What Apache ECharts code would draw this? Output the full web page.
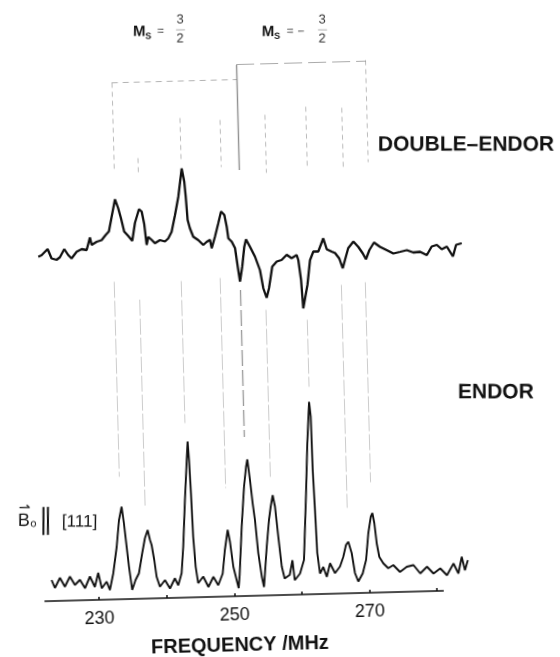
<!DOCTYPE html>
<html>
<head>
<meta charset="utf-8">
<script src="https://cdn.jsdelivr.net/npm/echarts@6/dist/echarts.min.js"></script>
<style>
  html, body { margin: 0; padding: 0; background: #fff; overflow: hidden; }
  /* the recorder trace sits slightly skewed on the page */
  #chart { width: 560px; height: 657px; transform: rotate(-1.5deg); transform-origin: 50% 50%; }
</style>
</head>
<body>
<div id="chart"></div>
<script>
// ---- frequency axis (MHz) ----
const axisRange  = [222, 280.9];   // drawn frequency axis
const traceRange = [222, 285.2];   // recorder sweep, runs past the axis end
const freqTicks  = [230, 240, 250, 260, 270, 280];
const freqLabels = [230, 250, 270];

// ---- DOUBLE-ENDOR trace (frequency in MHz, signal in arbitrary units, offset above ENDOR) ----
const doubleFreq = [
  222.33,222.83,223.74,224.29,225.03,225.53,226.20,226.76,227.25,228.02,
  228.77,229.51,230.04,230.27,231.02,231.76,232.37,232.87,233.33,233.89,
  234.33,234.70,235.13,235.71,236.29,236.76,237.40,237.79,238.12,238.40,
  238.67,239.15,239.63,240.38,241.12,241.62,242.14,242.70,243.27,243.87,
  244.20,244.36,244.55,244.86,245.32,246.05,246.77,247.27,247.78,248.01,
  248.53,249.08,249.52,250.00,250.31,250.50,250.99,251.45,251.78,252.06,
  252.45,252.82,253.10,253.66,254.37,255.05,255.48,255.94,256.32,256.88,
  257.56,258.30,259.06,259.78,260.54,260.76,261.09,261.31,262.02,262.49,
  263.01,263.75,264.53,265.00,265.73,266.22,266.82,267.30,267.67,268.18,
  268.97,269.68,270.31,270.77,271.30,272.01,272.89,273.88,274.84,275.85,
  276.84,277.80,278.80,279.78,280.53,281.29,282.01,282.77,283.64,284.14,
  284.98
];
const doubleSignal = [
  68.9,69.2,70.4,68.5,68.2,68.7,70.3,69.1,68.4,69.7,
  70.2,70.0,72.5,71.0,71.6,71.9,72.9,73.6,76.5,80.0,
  78.2,76.2,73.5,72.6,71.6,75.2,77.9,77.4,74.9,70.7,
  72.3,71.7,71.0,71.6,71.3,71.9,73.2,76.5,80.2,85.8,
  83.2,80.2,75.5,73.8,72.1,71.4,70.4,71.0,71.4,69.7,
  72.0,74.7,77.0,76.3,73.9,71.6,70.9,69.6,65.9,62.9,
  65.9,69.8,71.3,69.8,67.8,65.1,61.4,59.5,61.4,65.7,
  66.7,67.0,68.0,67.3,67.9,66.9,62.9,57.2,61.9,66.8,
  68.5,68.5,71.1,68.9,68.4,68.1,67.0,65.0,66.7,69.0,
  70.3,69.2,67.9,66.7,68.5,70.0,69.1,68.4,67.7,68.0,
  68.3,67.8,67.9,67.2,68.9,69.2,68.3,68.8,66.8,69.1,
  69.4
];

// ---- ENDOR trace ----
const endorFreq = [
  223.05,223.51,224.29,224.99,225.77,226.48,227.24,227.96,228.73,229.42,
  229.97,230.44,231.18,231.63,232.19,232.80,233.24,233.68,233.96,234.27,
  234.54,234.93,235.47,235.99,236.55,237.01,237.44,237.75,237.97,238.30,
  238.59,239.04,239.81,240.52,241.28,241.76,242.30,242.64,243.07,243.49,
  243.69,243.83,243.99,244.15,244.40,244.71,245.48,246.21,246.98,247.67,
  248.37,248.78,249.27,249.57,249.97,250.68,250.87,251.36,251.86,252.23,
  252.45,252.76,253.07,253.35,253.71,254.14,254.43,254.98,255.42,255.72,
  256.06,256.36,256.73,257.13,257.51,258.28,258.73,259.00,259.80,260.44,
  261.00,261.38,261.80,261.99,262.08,262.26,262.43,262.76,263.27,263.75,
  264.28,264.98,265.74,266.26,266.71,267.06,267.52,267.93,268.39,269.07,
  269.62,270.05,270.48,270.73,270.98,271.26,271.59,272.16,272.87,273.63,
  274.59,275.61,276.61,277.58,278.60,279.54,280.55,281.52,282.53,283.22,
  283.77,284.20,284.66
];
const endorSignal = [
  4.2,2.6,4.6,2.8,4.8,3.1,4.1,2.4,4.7,2.6,
  5.4,2.3,3.6,1.9,5.2,10.5,15.8,18.5,15.2,10.5,
  6.5,1.8,3.8,5.1,9.1,12.1,13.7,11.7,10.7,7.7,
  4.3,2.3,3.6,1.9,3.9,2.5,4.9,10.2,19.5,27.5,
  31.2,27.5,20.8,12.1,6.1,2.8,4.1,2.0,4.0,2.3,
  4.6,9.3,13.3,10.9,5.9,1.6,4.2,13.9,21.9,25.8,
  27.3,23.2,18.5,15.1,8.5,3.8,1.7,9.7,15.1,17.7,
  20.0,17.7,11.7,5.7,3.3,4.0,6.9,2.9,4.2,6.9,
  20.2,30.2,38.5,35.5,24.8,16.8,8.2,4.1,5.4,3.4,
  6.1,4.1,5.4,7.3,9.7,10.3,8.0,4.0,2.3,3.9,
  6.6,11.9,15.2,15.9,13.9,9.8,7.1,5.8,4.8,5.4,
  4.0,5.0,5.3,3.6,4.9,3.5,4.5,3.1,5.4,3.4,
  6.7,4.0,6.0
];

// ---- guide lines through the transitions (upper part above DOUBLE-ENDOR, lower part down to ENDOR) ----
const guideUpperFreq = [233.87, 237.47, 243.75, 249.63, 252.33, 256.30, 262.38, 267.71, 271.48];
const guideLowerFreq = [233.41, 237.17, 243.31, 249.08, 252.04, 255.73, 261.80, 267.05, 270.60];
const guideUpper = [[103.3,85.5],[88.1,85.3],[95.9,87.5],[95.3,85.9],[106.2,85.2],[96.1,84.5],[97.5,85.3],[97.1,85.3],[106.5,86.1]];
const guideLower = [[63.5,24.5],[59.8,18.3],[63.3,34.9],[63.7,21.7],[61.2,31.8],[57.1,23.7],[54.9,41.5],[61.7,17.1],[62.1,22.1]];

// ---- Ms brackets: [from MHz, to MHz] and level ----
const bracketSpan  = [[233.87, 252.33], [252.33, 271.48]];
const bracketLevel = [103.3, 106.3];

const FONT = '"Liberation Sans", Arial, sans-serif';
const TILT = 1.5 * Math.PI / 180;
const PX_PER_MHZ = 6.762;
const LEFT = 38, TOP = 45, BOTTOM = 62, W = 560;
const rightFor = r => W - LEFT - (r[1] - r[0]) * PX_PER_MHZ;
const zip = (xs, ys) => xs.map((x, i) => [x, ys[i]]);

const guideItems = [];
guideUpperFreq.forEach((f, i) => {
  const solid = i === 4;
  const g = guideLowerFreq[i];
  guideItems.push({
    coords: [[f, guideUpper[i][0]], [f, guideUpper[i][1]]],
    lineStyle: solid ? { color: '#222', width: 1.4, type: 'solid' } : { color: '#777', width: 1, type: [5, 4] }
  });
  guideItems.push({
    coords: [[g, guideLower[i][0]], [g, guideLower[i][1]]],
    lineStyle: solid ? { color: '#333', width: 1.3, type: [16, 4] } : { color: '#999', width: 1, type: [16, 3] }
  });
});
bracketSpan.forEach((s, i) => {
  guideItems.push({
    coords: [[s[0], bracketLevel[i]], [s[1], bracketLevel[i]]],
    lineStyle: i === 0 ? { color: '#666', width: 1, type: [6, 5] } : { color: '#555', width: 1.2, type: [18, 6] }
  });
});

function txt(x, y, text, size, opts) {
  opts = opts || {};
  return {
    type: 'text', x: x, y: y,
    style: {
      text: text, fontSize: size, fontFamily: FONT,
      fontWeight: opts.bold ? 'bold' : 'normal',
      fill: opts.color || '#111',
      textAlign: opts.align || 'left', textVerticalAlign: 'middle'
    }
  };
}
function msLabel(x, y, negative) {
  const off = negative ? 13.3 : 0;
  const children = [
    txt(0, 0, 'M', 15, { bold: true }),
    txt(12.5, 4.5, 'S', 9, { bold: true }),
    txt(27.5 + (negative ? 0.8 : 0), -0.5, '=', 12, { align: 'center', color: '#444' }),
    txt(47 + off, -12, '3', 13, { align: 'center', color: '#333' }),
    { type: 'line', shape: { x1: 43 + off, y1: -2, x2: 52 + off, y2: -2 },
      style: { stroke: '#999', lineWidth: 0.8 } },
    txt(47 + off, 7, '2', 13, { align: 'center', color: '#333' })
  ];
  if (negative) children.push(txt(39.3, 0, '\u2212', 12, { align: 'center', color: '#444' }));
  return { type: 'group', x: x, y: y, rotation: -TILT, children: children };
}

const chart = echarts.init(document.getElementById('chart'), null, { renderer: 'canvas' });
chart.setOption({
  animation: false,
  backgroundColor: '#fff',
  grid: [
    // traces and guides (same MHz scale, wider sweep)
    { left: LEFT, right: rightFor(traceRange), top: TOP, bottom: BOTTOM },
    // printed frequency axis
    { left: LEFT, right: rightFor(axisRange), top: TOP, bottom: BOTTOM }
  ],
  xAxis: [
    { gridIndex: 0, type: 'value', min: traceRange[0], max: traceRange[1], show: false },
    {
      gridIndex: 1, type: 'value', min: axisRange[0], max: axisRange[1],
      splitLine: { show: false },
      axisLine: { lineStyle: { color: '#111', width: 1.6 } },
      axisTick: { customValues: freqTicks, inside: true, length: 3, lineStyle: { color: '#111', width: 1.5 } },
      axisLabel: { customValues: freqLabels, color: '#111', fontSize: 18, fontFamily: FONT, margin: 10 }
    }
  ],
  yAxis: [
    { gridIndex: 0, type: 'value', min: 0, max: 110, show: false },
    { gridIndex: 1, type: 'value', min: 0, max: 110, show: false }
  ],
  series: [
    {
      name: 'guides', type: 'lines', coordinateSystem: 'cartesian2d',
      xAxisIndex: 0, yAxisIndex: 0, silent: true, data: guideItems
    },
    {
      name: 'DOUBLE-ENDOR', type: 'line', xAxisIndex: 0, yAxisIndex: 0,
      data: zip(doubleFreq, doubleSignal),
      showSymbol: false, lineStyle: { color: '#111', width: 2.3 }
    },
    {
      name: 'ENDOR', type: 'line', xAxisIndex: 0, yAxisIndex: 0,
      data: zip(endorFreq, endorSignal),
      showSymbol: false, lineStyle: { color: '#111', width: 1.9 }
    }
  ],
  graphic: [
    Object.assign(txt(470.8, 149.9, 'DOUBLE\u2013ENDOR', 21, { bold: true, align: 'center' }), { rotation: -TILT }),
    Object.assign(txt(494.1, 398.2, 'ENDOR', 21, { bold: true, align: 'center' }), { rotation: -TILT }),
    msLabel(140.8, 28.1, false),
    msLabel(269.5, 31.5, true),
    {
      type: 'group', x: 13, y: 514, rotation: -TILT,
      children: [
        txt(6.5, -13, '\u21C0', 14, { align: 'center' }),
        txt(0, 0, 'B', 18),
        txt(12.5, 3, 'o', 11),
        { type: 'line', shape: { x1: 25.5, y1: -14, x2: 25.5, y2: 14 }, style: { stroke: '#111', lineWidth: 2 } },
        { type: 'line', shape: { x1: 30, y1: -14, x2: 30, y2: 14 }, style: { stroke: '#111', lineWidth: 2 } },
        txt(44, 1, '[111]', 17)
      ]
    },
    txt(231.7, 644, 'FREQUENCY /MHz', 20, { bold: true, align: 'center' })
  ]
});
</script>
</body>
</html>
